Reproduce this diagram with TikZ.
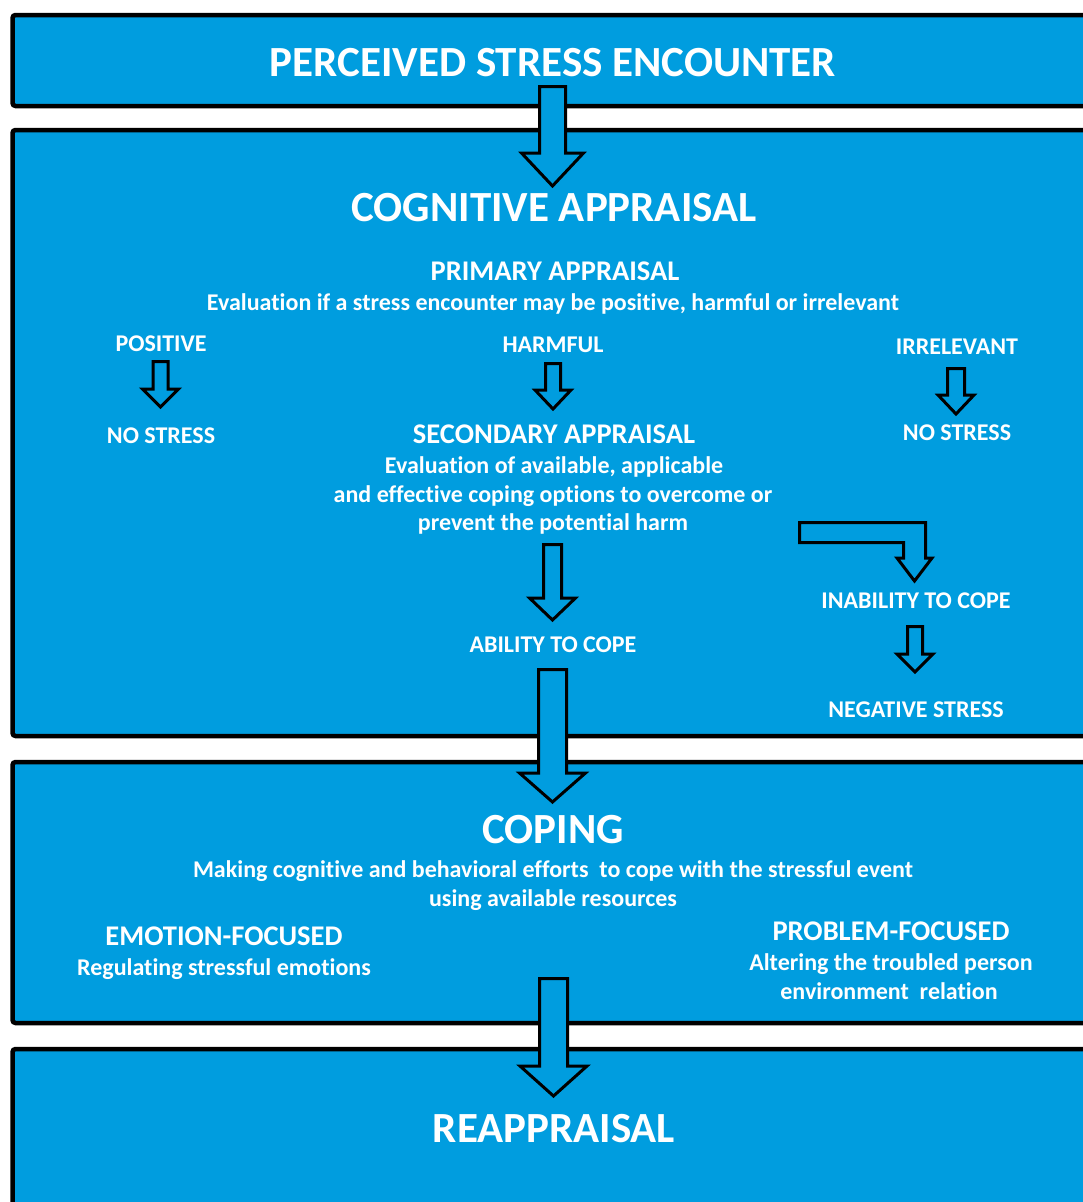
\documentclass[tikz,border=0pt]{standalone}
\usepackage{fontspec}
\setmainfont{Carlito}[Ligatures=NoCommon]
\definecolor{boxblue}{HTML}{009DDF}
\tikzset{
  panel/.style={draw=black, line width=4.5pt, fill=boxblue, rounded corners=3pt},
  barrow/.style={draw=black, line width=3pt, fill=boxblue, line join=miter},
  txt/.style={text=white, anchor=base, inner sep=0pt},
  big/.style={txt, font=\bfseries\fontsize{43}{52}\selectfont},
  mid/.style={txt, font=\bfseries\fontsize{28.5}{34}\selectfont},
  small/.style={txt, font=\bfseries\fontsize{24}{29}\selectfont}
}
\newcommand\blkarrow[6]{%
  \draw[barrow] ({#1-#5},#2) -- ({#1+#5},#2) -- ({#1+#5},#3) -- ({#1+#6},#3)
    -- (#1,#4) -- ({#1-#6},#3) -- ({#1-#5},#3) -- cycle;}
\begin{document}
\begin{tikzpicture}[x=1pt,y=-1pt]
\useasboundingbox (0,0) rectangle (1083,1202);
\fill[white] (0,0) rectangle (1083,1202);
\clip (0,0) rectangle (1083,1202);
% panels
\draw[panel] (12.5,15) rectangle (1110,106);
\draw[panel] (12.5,130) rectangle (1110,736);
\draw[panel] (12.5,762) rectangle (1110,1023);
\draw[panel] (12.5,1049) rectangle (1110,1260);
% block arrows
\blkarrow{552.5}{86.5}{153}{186}{13}{31}
\blkarrow{160.5}{361.5}{389}{407}{7.5}{18}
\blkarrow{553}{363.5}{390}{409}{7.5}{18}
\blkarrow{956}{368.5}{395}{414}{8.5}{18}
\blkarrow{552.5}{544.5}{598}{620}{9}{23}
\blkarrow{552.5}{669.5}{773}{802}{14}{33}
\blkarrow{915}{626.5}{654}{672}{7.5}{18}
\blkarrow{553.5}{978.5}{1066}{1096}{14}{33.5}
\draw[barrow] (799.5,522.5) -- (925.5,522.5) -- (925.5,558) -- (932,558)
  -- (914.5,581) -- (897,558) -- (903.5,558) -- (903.5,542.5) -- (799.5,542.5) -- cycle;
% texts
\node[big] (pse) at (553,76) {PERCEIVED STRESS ENCOUNTER};
\node[big] (ca) at (554,221) {COGNITIVE APPRAISAL};
\node[mid] (pa) at (555,280) {PRIMARY APPRAISAL};
\node[small] (pad) at (553,310) {Evaluation if a stress encounter may be positive, harmful or irrelevant};
\node[small] (pos) at (161,351) {POSITIVE};
\node[small] (harm) at (553,352) {HARMFUL};
\node[small] (irr) at (957,354) {IRRELEVANT};
\node[small] (ns1) at (161,443) {NO STRESS};
\node[mid] (sa) at (554,443) {SECONDARY APPRAISAL};
\node[small] (ns2) at (957,440) {NO STRESS};
\node[small] (sa1) at (554,473) {Evaluation of available, applicable};
\node[small] (sa2) at (553,502) {and effective coping options to overcome or};
\node[small] (sa3) at (553,530) {prevent the potential harm};
\node[small] (inab) at (916,608) {INABILITY TO COPE};
\node[small] (ab) at (553,652) {ABILITY TO COPE};
\node[small] (neg) at (916,717) {NEGATIVE STRESS};
\node[big] (cop) at (553,843) {COPING};
\node[small] (cop1) at (553,877) {Making cognitive and behavioral efforts\ \ to cope with the stressful event};
\node[small] (cop2) at (553,906) {using available resources};
\node[mid] (ef) at (224,945) {EMOTION-FOCUSED};
\node[small] (ef1) at (224,975) {Regulating stressful emotions};
\node[mid] (pf) at (891,940) {PROBLEM-FOCUSED};
\node[small] (pf1) at (891,970) {Altering the troubled person};
\node[small] (pf2) at (889,999) {environment\ \ relation};
\node[big] (rea) at (554,1142) {REAPPRAISAL};
\end{tikzpicture}
\end{document}
